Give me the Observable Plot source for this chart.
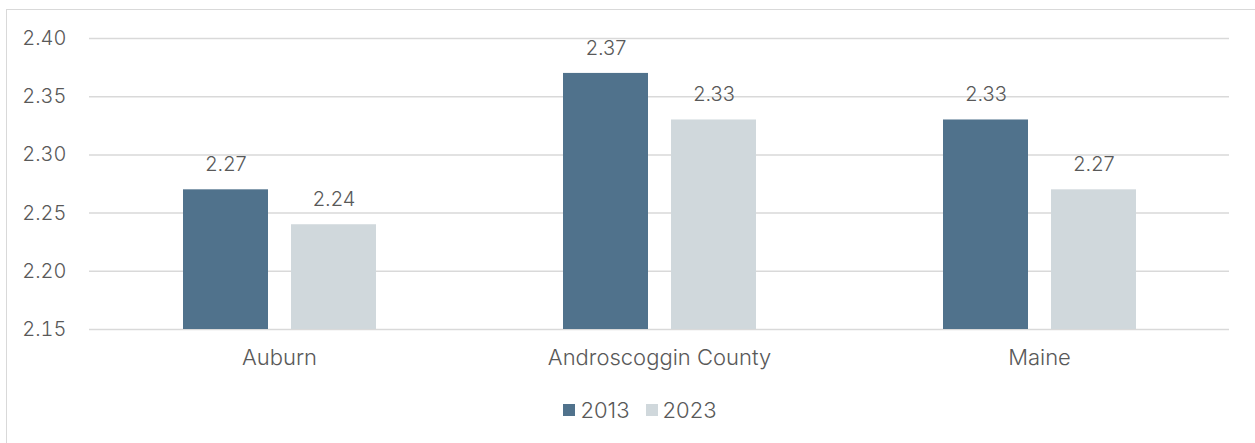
<!DOCTYPE html>
<html>
<head>
<meta charset="utf-8">
<script src="https://cdn.jsdelivr.net/npm/d3@7"></script>
<script src="https://cdn.jsdelivr.net/npm/@observablehq/plot@0.6"></script>
<style>
  html, body { margin: 0; padding: 0; background: #fff; }
  body { width: 1255px; height: 443px; overflow: hidden; position: relative; font-family: Inter, Lato, sans-serif; }
  #frame { position: absolute; left: 6px; top: 9px; width: 1262px; height: 460px; border: 1px solid #d9d9d9; box-sizing: border-box; }
  #chart { position: absolute; left: 0; top: 0; }
  #legend { position: absolute; left: 0; top: 387px; width: 1262px; display: flex; justify-content: center; gap: 16px; font-size: 22px; font-weight: 300; color: #595959; padding-left: 4px; box-sizing: border-box; }
  #legend .item { display: flex; align-items: center; gap: 5px; }
  #legend .sw { width: 12px; height: 12px; display: inline-block; }
</style>
</head>
<body>
<div id="frame">
  <div id="chart"></div>
  <div id="legend"></div>
</div>
<script>
const places = ["Auburn", "Androscoggin County", "Maine"];
const years = ["2013", "2023"];
const values2013 = [2.27, 2.37, 2.33];
const values2023 = [2.24, 2.33, 2.27];
const yTicks = [2.15, 2.20, 2.25, 2.30, 2.35, 2.40];
const colors = ["#50728c", "#d0d8dc"];

const data = [];
places.forEach((p, i) => {
  data.push({place: p, year: years[0], value: values2013[i]});
  data.push({place: p, year: years[1], value: values2023[i]});
});

const textColor = "#595959";
const chart = Plot.plot({
  width: 1248,
  height: 369,
  marginLeft: 82,
  marginRight: 26,
  marginTop: 28,
  marginBottom: 50,
  style: { fontFamily: "Inter, Lato, sans-serif", fontSize: "20px", color: textColor, fontWeight: 300 },
  fx: { domain: places, padding: 0, label: null },
  x: { domain: years, paddingInner: 0.213, paddingOuter: 0.85, axis: null },
  y: { domain: [2.15, 2.40], ticks: yTicks, label: null },
  color: { domain: years, range: colors },
  marks: [
    Plot.ruleY(yTicks, { stroke: "#d9d9d9", strokeWidth: 1.5 }),
    Plot.axisY({ ticks: yTicks, tickSize: 0, tickPadding: 23, tickFormat: d3.format(".2f"), label: null, fill: textColor, fontSize: 20 }),
    Plot.axisFx({ anchor: "bottom", tickSize: 0, tickPadding: 20, label: null, fill: textColor, fontSize: 22 }),
    Plot.barY(data, { fx: "place", x: "year", y1: 2.15, y2: "value", fill: "year" }),
    Plot.text(data, { fx: "place", x: "year", y: "value", text: d => d.value.toFixed(2), dy: -25, fill: textColor, fontSize: 20 })
  ]
});
document.getElementById("chart").appendChild(chart);

const legend = document.getElementById("legend");
years.forEach((y, i) => {
  const item = document.createElement("span");
  item.className = "item";
  const sw = document.createElement("span");
  sw.className = "sw";
  sw.style.background = colors[i];
  item.appendChild(sw);
  item.appendChild(document.createTextNode(y));
  legend.appendChild(item);
});
</script>
</body>
</html>
